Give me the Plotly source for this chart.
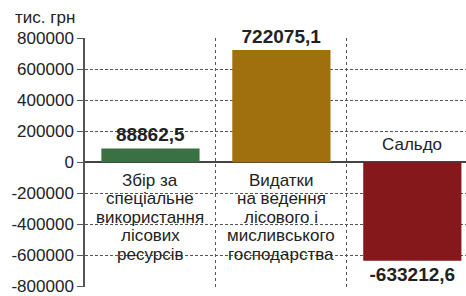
import plotly.graph_objects as go

categories = [["Збір за", "спеціальне", "використання", "лісових", "ресурсів"],
              ["Видатки", "на ведення", "лісового і", "мисливського", "господарства"],
              ["Сальдо"]]
values = [88862.5, 722075.1, -633212.6]
colors = ["#3b7142", "#a0700f", "#85181b"]
tick_vals = [800000, 600000, 400000, 200000, 0, -200000, -400000, -600000, -800000]
tick_text = ["800000", "600000", "400000", "200000", "0", "-200000", "-400000", "-600000", "-800000"]
unit_label = "тис. грн"

xs = list(range(len(categories)))
labels = [("%.1f" % v).replace(".", ",") for v in values]

FONT = "Liberation Sans, Arial, sans-serif"
LINE_H = 18.5
FIRST = 18

fig = go.Figure()
fig.add_trace(go.Bar(
    x=xs, y=values, width=0.75,
    marker=dict(color=colors, line=dict(width=0)),
    text=labels, textposition="outside", cliponaxis=False,
    constraintext="none",
    textfont=dict(family=FONT, size=19, color="#222222", weight="bold"),
))

for x, v, lines in zip(xs, values, categories):
    n = len(lines)
    for i, line in enumerate(lines):
        if v >= 0:
            shift = -(FIRST + i * LINE_H)
        else:
            shift = FIRST + (n - 1 - i) * LINE_H
        fig.add_annotation(
            x=x, y=0, text=line, showarrow=False,
            yanchor="middle", yshift=shift,
            font=dict(family=FONT, size=17, color="#222222"),
        )

fig.add_annotation(
    xref="paper", yref="paper", x=0, y=1, xanchor="left", yanchor="bottom",
    xshift=-72, yshift=9, text=unit_label, showarrow=False,
    font=dict(family=FONT, size=17, color="#222222"),
)

fig.update_layout(
    width=466, height=296,
    margin=dict(l=85, r=0, t=38, b=9, autoexpand=False),
    paper_bgcolor="white", plot_bgcolor="white",
    showlegend=False,
    font=dict(family=FONT, size=17, color="#222222"),
    xaxis=dict(
        range=[-0.5, 2.41], tickvals=[0.5, 1.5], showticklabels=False,
        showgrid=True, gridcolor="#555555", gridwidth=1, griddash="dot",
        zeroline=False, showline=False, ticks="", automargin=False,
    ),
    yaxis=dict(
        range=[-803000, 800000], tickvals=tick_vals, ticktext=tick_text,
        showgrid=True, gridcolor="#555555", gridwidth=1, griddash="3px,2px",
        zeroline=True, zerolinecolor="#444444", zerolinewidth=1.5,
        showline=True, linecolor="#555555", linewidth=1.5,
        ticks="outside", ticklen=6, tickcolor="#555555",
        tickfont=dict(family=FONT, size=17, color="#222222"),
        ticklabeloverflow="allow",
        automargin=False,
    ),
)

fig.write_html(
    "out.html",
    config={"displayModeBar": False},
    post_script="document.body.style.margin='0';document.body.style.overflow='hidden';",
)
